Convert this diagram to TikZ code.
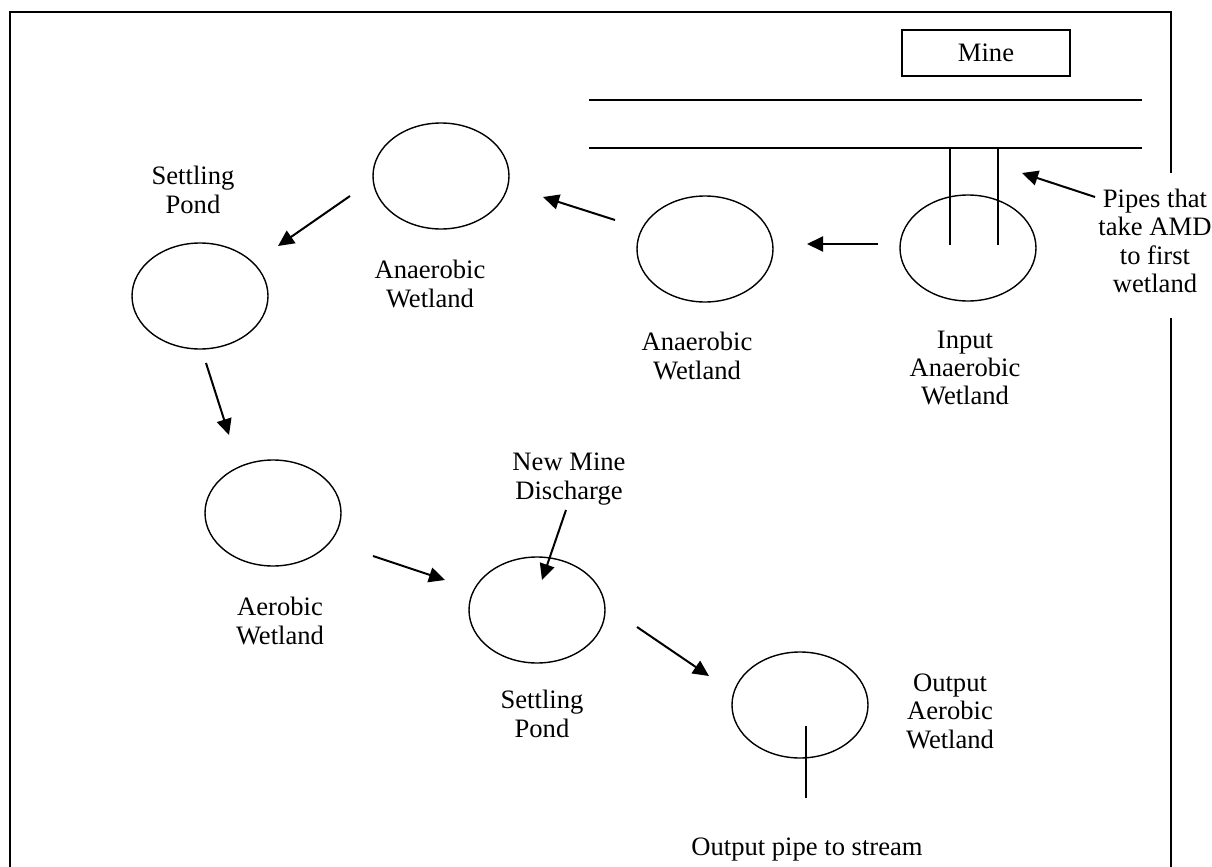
\documentclass[tikz,border=0pt]{standalone}
\usepackage{fontspec}
\setmainfont{Liberation Serif}
\usetikzlibrary{arrows.meta,shapes.geometric}
\begin{document}
\begin{tikzpicture}[x=0.5pt,y=-0.5pt,
  pond/.style={draw, ellipse, line width=0.7pt, minimum width=68pt, minimum height=53pt, inner sep=0pt},
  flow/.style={-{Triangle[length=8pt,width=7.5pt]}, line width=1pt},
  lbl/.style={align=center, inner sep=0pt, font=\fontsize{13.3}{14.2}\selectfont},
  thin line/.style={line width=0.7pt},
  frame/.style={line width=1.1pt}]
\useasboundingbox (0,0) rectangle (1212,867);
% frame
\draw[frame] (1171,173) -- (1171,12) -- (10,12) -- (10,867);
\draw[frame] (1171,318) -- (1171,867);
% mine and pipes
\node[draw, thin line, minimum width=84pt, minimum height=23pt, lbl] (mine) at (986,53) {Mine};
\coordinate (l1a) at (589,100); \coordinate (l1b) at (1142,100);
\coordinate (l2a) at (589,148); \coordinate (l2b) at (1142,148);
\draw[thin line] (l1a) -- (l1b);
\draw[thin line] (l2a) -- (l2b);
\coordinate (p1a) at (950,148); \coordinate (p1b) at (950,245);
\coordinate (p2a) at (998,148); \coordinate (p2b) at (998,245);
% ponds
\node[pond] (input) at (968,248) {};
\node[pond] (an2) at (705,249) {};
\node[pond] (an1) at (441,176) {};
\node[pond] (set1) at (200,296) {};
\node[pond] (aer) at (273,513) {};
\node[pond] (set2) at (537,610) {};
\node[pond] (out) at (800,705) {};
\draw[thin line] (p1a) -- (p1b);
\draw[thin line] (p2a) -- (p2b);
\coordinate (o1) at (806,726); \coordinate (o2) at (806,798);
\draw[thin line] (o1) -- (o2);
% labels
\node[lbl] (pipeslbl) at (1155,241) {Pipes that\\take AMD\\to first\\wetland};
\node[lbl] (inlbl) at (965,368) {Input\\Anaerobic\\Wetland};
\node[lbl] (an2lbl) at (697,356) {Anaerobic\\Wetland};
\node[lbl] (an1lbl) at (430,284) {Anaerobic\\Wetland};
\node[lbl] (set1lbl) at (193,190) {Settling\\Pond};
\node[lbl] (aerlbl) at (280,621) {Aerobic\\Wetland};
\node[lbl] (newlbl) at (569,479) {New Mine\\Discharge};
\node[lbl] (set2lbl) at (542,714) {Settling\\Pond};
\node[lbl] (outlbl) at (950,711) {Output\\Aerobic\\Wetland};
\node[lbl] (pipelbl) at (807,850) {Output pipe to stream};
% arrows
\coordinate (a1s) at (1095,197); \coordinate (a1e) at (1022,173);
\coordinate (a2s) at (878,244); \coordinate (a2e) at (807,244);
\coordinate (a3s) at (615,220); \coordinate (a3e) at (543,197);
\coordinate (a4s) at (350,196); \coordinate (a4e) at (278,246);
\coordinate (a5s) at (206,363); \coordinate (a5e) at (229,435);
\coordinate (a6s) at (373,556); \coordinate (a6e) at (445,580);
\coordinate (a7s) at (566,510); \coordinate (a7e) at (542,580);
\coordinate (a8s) at (637,627); \coordinate (a8e) at (709,676);
\draw[flow] (a1s) -- (a1e);
\draw[flow] (a2s) -- (a2e);
\draw[flow] (a3s) -- (a3e);
\draw[flow] (a4s) -- (a4e);
\draw[flow] (a5s) -- (a5e);
\draw[flow] (a6s) -- (a6e);
\draw[flow] (a7s) -- (a7e);
\draw[flow] (a8s) -- (a8e);
\end{tikzpicture}
\end{document}
